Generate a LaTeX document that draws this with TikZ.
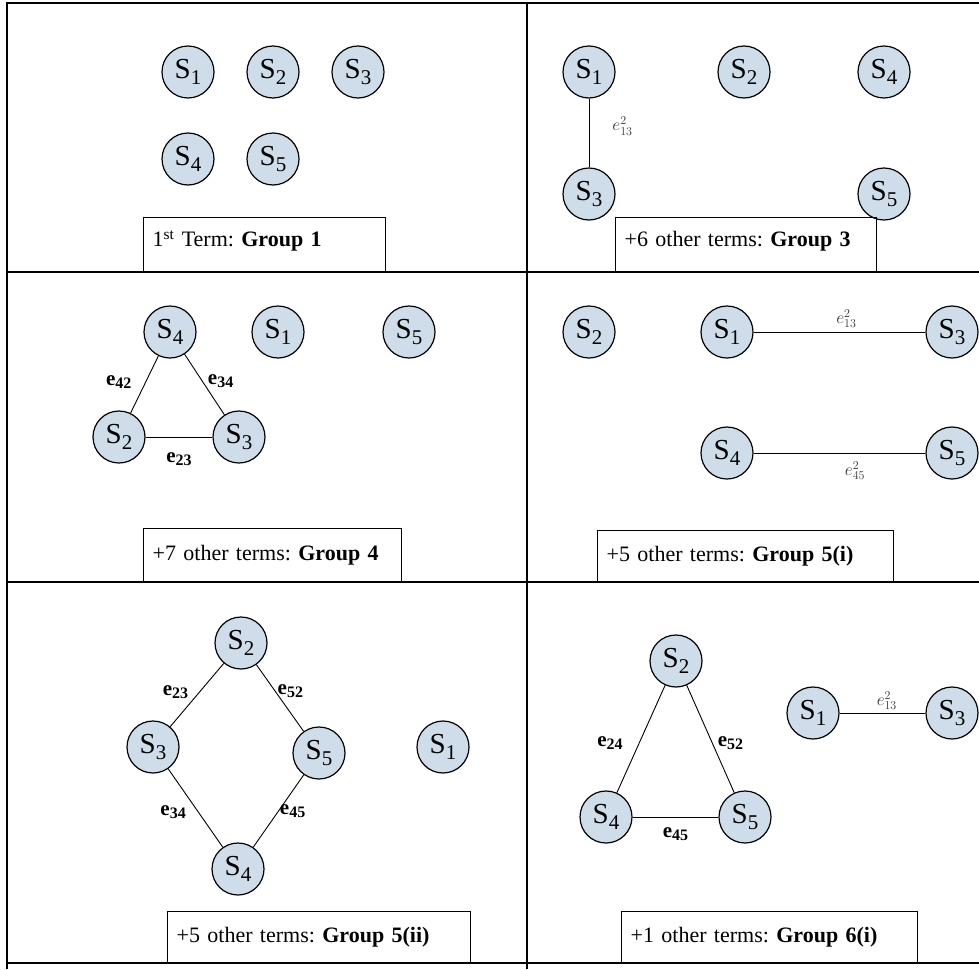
\documentclass[tikz,border=0pt]{standalone}
\usepackage{fontspec}
\setmainfont{Liberation Serif}
\usetikzlibrary{calc, positioning}
\frenchspacing
\definecolor{sitefill}{RGB}{206,221,233}
\newcommand{\sn}[1]{S\raisebox{-6pt}{\fontsize{21}{21}\selectfont #1}}
\newcommand{\eb}[1]{\textbf{e\raisebox{-3pt}{\fontsize{16}{16}\selectfont #1}}}
\newcommand{\es}[1]{$e^{2}_{#1}$}

\begin{document}
\begin{tikzpicture}[x=1pt,y=-1pt,
  site/.style={circle,draw=black,line width=1.2pt,fill=sitefill,minimum size=52pt,inner sep=0pt,font=\fontsize{29}{29}\selectfont},
  termbox/.style={draw=black,line width=1.4pt,anchor=south west,align=left,inner xsep=9pt,inner ysep=2pt,font=\fontsize{22}{24}\selectfont},
  bondlab/.style={inner sep=1pt,font=\fontsize{21}{21}\selectfont},
  sqlab/.style={inner sep=1pt,text=black!80,font=\fontsize{17}{17}\selectfont},
  bond/.style={line width=0.9pt}]
\useasboundingbox (0,0) rectangle (979,969);
\draw[line width=1.6pt] (7,969) to (7,3) to (979,3);
\draw[line width=1.6pt] (527,3) to (527,969);
\foreach \y in {272,582,963} \draw[line width=1.6pt] (7,\y) to (979,\y);

\foreach \i/\x/\y in {1/188/72,2/273/72,3/358/72,4/188/159,5/273/159} \node[site] (a\i) at (\x,\y) {\sn{\i}};
\node[termbox,text width=224pt,text depth=11pt,minimum height=54pt] (ta) at (143,272) {1\textsuperscript{st} Term: \textbf{Group 1}};

\foreach \i/\x/\y in {1/589/72,2/744/72,4/884/72,3/589/194,5/884/194} \node[site] (b\i) at (\x,\y) {\sn{\i}};
\draw[bond] (b1) to node[sqlab,right=22pt,pos=0.4]{\es{13}} (b3);
\node[termbox,text width=243pt,text depth=11pt,minimum height=54pt] (tb) at (615,272) {+6 other terms: \textbf{Group 3}};

\foreach \i/\x/\y in {4/170/332,1/278/332,5/409/332,2/119/437,3/239/437} \node[site] (c\i) at (\x,\y) {\sn{\i}};
\draw[bond] (c4) to node[bondlab,left=13pt,pos=0.45]{\eb{42}} (c2);
\draw[bond] (c4) to node[bondlab,right=4pt,pos=0.45]{\eb{34}} (c3);
\draw[bond] (c2) to node[bondlab,below=14pt]{\eb{23}} (c3);
\node[termbox,text width=240pt,minimum height=53pt] (tc) at (143,582) {+7 other terms: \textbf{Group 4}};

\foreach \i/\x/\y in {2/589/332,1/727/332,3/952/332,4/727/453,5/952/453} \node[site] (d\i) at (\x,\y) {\sn{\i}};
\draw[bond] (d1) to node[sqlab,above=3pt,pos=0.54]{\es{13}} (d3);
\draw[bond] (d4) to node[sqlab,below=7pt,pos=0.59]{\es{45}} (d5);
\node[termbox,text width=278pt,minimum height=51pt] (td) at (597,582) {+5 other terms: \textbf{Group 5(i)}};

\foreach \i/\x/\y in {2/241/643,3/153/747,5/319/753,1/443/747,4/238/869} \node[site] (f\i) at (\x,\y) {\sn{\i}};
\draw[bond] (f2) to node[bondlab,left=10pt,pos=0.45]{\eb{23}} (f3);
\draw[bond] (f2) to node[bondlab,right=1pt,pos=0.4]{\eb{52}} (f5);
\draw[bond] (f3) to node[bondlab,left=11pt,pos=0.55]{\eb{34}} (f4);
\draw[bond] (f5) to node[bondlab,right=0pt,pos=0.5]{\eb{45}} (f4);
\node[termbox,text width=285pt,minimum height=51pt] (tf) at (167,963) {+5 other terms: \textbf{Group 5(ii)}};

\foreach \i/\x/\y in {2/676/661,4/606/817,5/745/817,1/813/713,3/952/713} \node[site] (g\i) at (\x,\y) {\sn{\i}};
\draw[bond] (g2) to node[bondlab,left=15pt,pos=0.54]{\eb{24}} (g4);
\draw[bond] (g2) to node[bondlab,right=4pt,pos=0.54]{\eb{52}} (g5);
\draw[bond] (g4) to node[bondlab,below=9pt]{\eb{45}} (g5);
\draw[bond] (g1) to node[sqlab,above=2pt,pos=0.55]{\es{13}} (g3);
\node[termbox,text width=278pt,minimum height=51pt] (tg) at (621,963) {+1 other terms: \textbf{Group 6(i)}};
\end{tikzpicture}
\end{document}
